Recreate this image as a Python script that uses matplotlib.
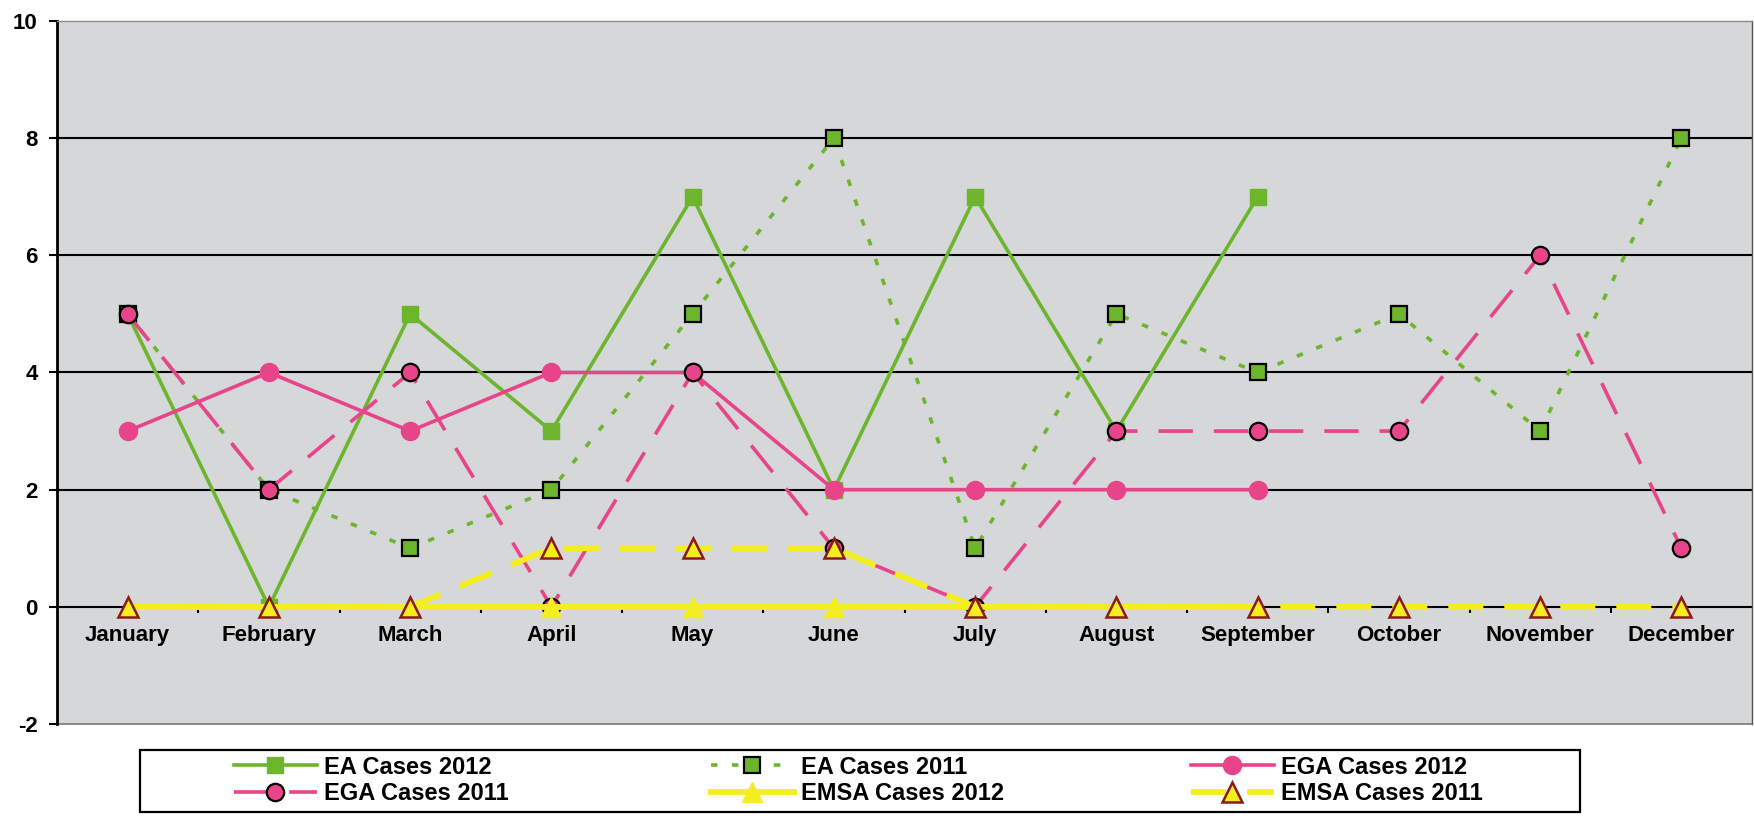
import numpy as np
import matplotlib
matplotlib.use("Agg")
import matplotlib.pyplot as plt
from matplotlib.patches import Rectangle

plt.rcParams["font.family"] = ["Liberation Sans", "DejaVu Sans"]

months = ["January", "February", "March", "April", "May", "June", "July",
          "August", "September", "October", "November", "December"]

ea_2012 = [5, 0, 5, 3, 7, 2, 7, 3, 7, None, None, None]
ea_2011 = [5, 2, 1, 2, 5, 8, 1, 5, 4, 5, 3, 8]
ega_2012 = [3, 4, 3, 4, 4, 2, 2, 2, 2, None, None, None]
ega_2011 = [5, 2, 4, 0, 4, 1, 0, 3, 3, 3, 6, 1]
emsa_2012 = [0, 0, 0, 0, 0, 0, 0, 0, 0, None, None, None]
emsa_2011 = [0, 0, 0, 1, 1, 1, 0, 0, 0, 0, 0, 0]

GREEN = "#6cb52d"
PINK = "#e8448a"
YELLOW = "#f5ee1f"
DARKRED = "#8b1a1a"


def vals(v):
    return np.array(v, dtype=float)


fig = plt.figure(figsize=(17.54, 8.16), dpi=100)
ax = fig.add_axes([57 / 1754, 1 - 724 / 816, 1695 / 1754, 703 / 816])
ax.set_facecolor("#d5d7d9")

x = np.arange(len(months))

h_ea12, = ax.plot(x, vals(ea_2012), color=GREEN, lw=2.6, marker="s", ms=12,
                  mfc=GREEN, mec=GREEN, label="EA Cases 2012")
h_ea11, = ax.plot(x, vals(ea_2011), color=GREEN, lw=2.6, dashes=(1.8, 4),
                  marker="s", ms=12, mfc=GREEN, mec="black", mew=1.6,
                  label="EA Cases 2011")
h_ega12, = ax.plot(x, vals(ega_2012), color=PINK, lw=2.6, marker="o", ms=13,
                   mfc=PINK, mec=PINK, label="EGA Cases 2012")
h_ega11, = ax.plot(x, vals(ega_2011), color=PINK, lw=2.6, dashes=(9.5, 5.8),
                   marker="o", ms=12.5, mfc=PINK, mec="black", mew=1.6,
                   label="EGA Cases 2011")
h_emsa12, = ax.plot(x, vals(emsa_2012), color=YELLOW, lw=4.2, marker="^", ms=14,
                    mfc=YELLOW, mec=YELLOW, label="EMSA Cases 2012")
h_emsa11, = ax.plot(x, vals(emsa_2011), color=YELLOW, lw=4.2, dashes=(6, 3.6),
                    marker="^", ms=14, mfc=YELLOW, mec=DARKRED, mew=1.8,
                    label="EMSA Cases 2011")

ax.set_xlim(-0.5, 11.5)
ax.set_ylim(-2, 10)

# horizontal grid lines
for gy in [2, 4, 6, 8]:
    ax.axhline(gy, color="black", lw=1.5, zorder=1)

ax.spines["bottom"].set_position(("data", 0))
ax.spines["bottom"].set_linewidth(1.5)
ax.spines["bottom"].set_zorder(1)
ax.spines["left"].set_linewidth(2)
ax.spines["top"].set_color("#8a8a8a")
ax.spines["top"].set_linewidth(1)
ax.spines["right"].set_color("#555555")
ax.spines["right"].set_linewidth(1)
ax.axhline(-2, color="#777777", lw=1.2, clip_on=False)

ax.set_xticks(x)
ax.set_xticklabels(months, fontsize=16, fontweight="bold")
ax.set_xticks(x[:-1] + 0.5, minor=True)
ax.tick_params(axis="x", which="major", length=0, pad=13)
ax.tick_params(axis="x", which="minor", length=4, width=1.5, direction="out")

ax.set_yticks(np.arange(-2, 11, 2))
ax.set_yticklabels([str(v) for v in range(-2, 11, 2)], fontsize=16,
                   fontweight="bold")
ax.tick_params(axis="y", length=6, width=1.5, pad=8)

# legend box
fig.add_artist(Rectangle((140 / 1754, 4 / 816), 1440 / 1754, 62 / 816,
                         transform=fig.transFigure, fill=False,
                         edgecolor="black", lw=1.6))

legend_cols = [
    ([h_ea12, h_ega11], 234),
    ([h_ea11, h_emsa12], 711),
    ([h_ega12, h_emsa11], 1191),
]
for handles, px in legend_cols:
    fig.legend(handles=handles, loc="center left",
               bbox_to_anchor=(px / 1754, 1 - 780.5 / 816),
               frameon=False, borderpad=0, borderaxespad=0,
               handlelength=3.5, handletextpad=0.3, labelspacing=0.15,
               prop={"size": 17, "weight": "bold"})

fig.savefig("out.png", dpi=100)
